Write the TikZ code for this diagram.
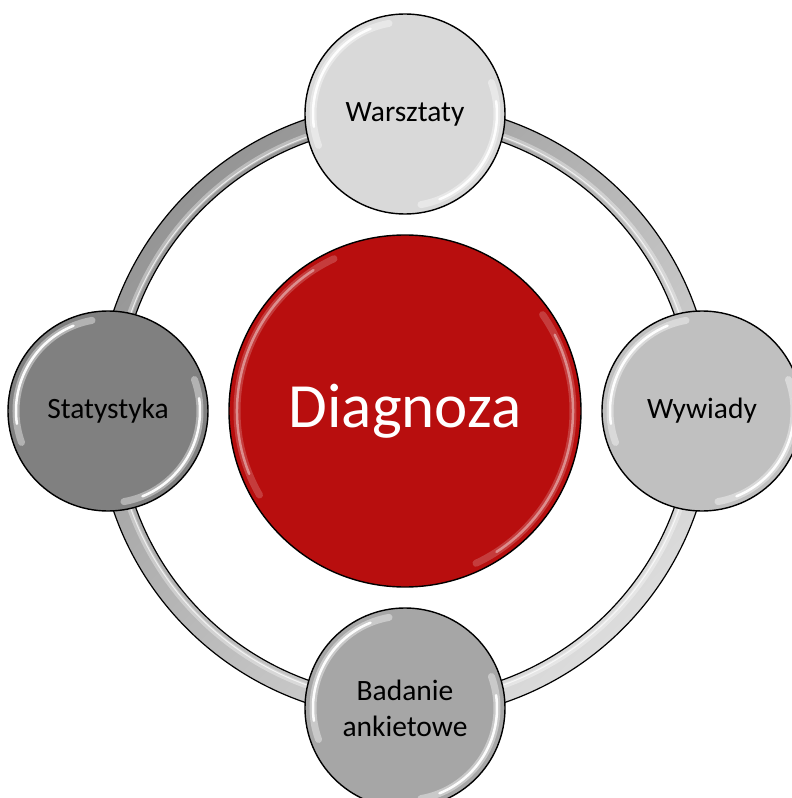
\documentclass[tikz,border=0pt]{standalone}
\usepackage{fontspec}
\setmainfont{Carlito}
\usetikzlibrary{calc}
\definecolor{diagred}{HTML}{B80E0E}
\definecolor{lightgrey}{HTML}{D9D9D9}
\definecolor{midgrey}{HTML}{C0C0C0}
\definecolor{darkgrey}{HTML}{A6A6A6}
\definecolor{deepgrey}{HTML}{808080}
\definecolor{ringdark}{HTML}{959595}
\definecolor{ringlight}{HTML}{DCDCDC}
\tikzset{
  hub/.style={circle, draw=black, line width=1.4pt, fill=diagred,
    minimum size=352pt, inner sep=0pt, text=white,
    font=\fontsize{63}{70}\selectfont},
  satellite/.style={circle, draw=black, line width=1.4pt, minimum size=200pt,
    inner sep=0pt, align=center, font=\fontsize{29.5}{36}\selectfont},
  glow/.style={white, line width=7pt, line cap=round, opacity=0.4},
  gloss/.style={white, line width=2.5pt, line cap=round, opacity=0.95},
  redglow/.style={glow, color=diagred!45!white, opacity=0.35},
  redgloss/.style={gloss, color=diagred!25!white, opacity=0.6}
}

\begin{document}
\begin{tikzpicture}[x=1pt,y=1pt]
  \clip (-405,-387) rectangle (387,411);
  % centre
  \node[hub] (diag) at (0,0) {Diagnoza};
  \foreach \a/\b in {115/210, -65/35} {
    \draw[redglow] (diag.center) ++(\a:168) arc[start angle=\a, end angle=\b, radius=168];
    \draw[redgloss] (diag.center) ++(\a+8:168) arc[start angle=\a+8, end angle=\b-8, radius=168];
  }
  % ring through the four satellites
  \path[draw=black, line width=1.2pt, even odd rule, top color=ringdark,
    bottom color=ringlight, shading angle=45]
    (diag.center) circle[radius=308] (diag.center) circle[radius=286];
  \draw[white, line width=5pt, opacity=0.35] (diag.center) circle[radius=292];
  \draw[white, line width=1pt, opacity=0.7] (diag.center) circle[radius=291];
  % satellites
  \foreach \ang/\name/\col/\txt in {90/warsztaty/lightgrey/Warsztaty,
      0/wywiady/midgrey/Wywiady,
      270/badanie/darkgrey/{Badanie\\ankietowe},
      180/statystyka/deepgrey/Statystyka} {
    \node[satellite, fill=\col] (\name) at (\ang:297) {\txt};
    \foreach \a/\b in {100/200, -80/20} {
      \draw[glow] (\name.center) ++(\a:92) arc[start angle=\a, end angle=\b, radius=92];
      \draw[gloss] (\name.center) ++(\a+12:92) arc[start angle=\a+12, end angle=\b-12, radius=92];
    }
  }
\end{tikzpicture}
\end{document}
